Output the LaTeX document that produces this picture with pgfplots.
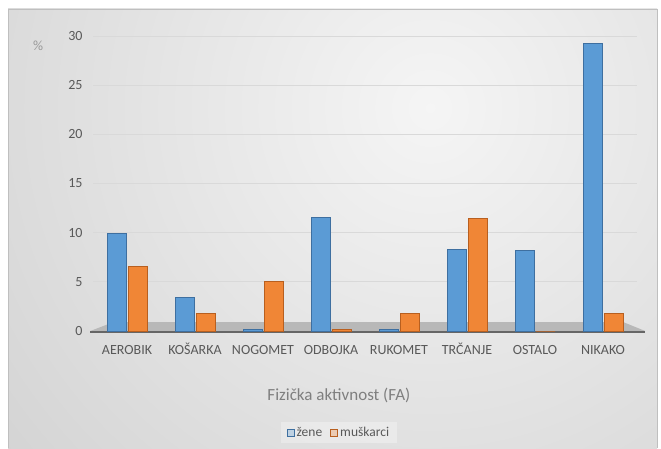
\documentclass[border=0pt]{standalone}
\usepackage{fontspec}
\setmainfont{Carlito}
\usepackage{pgfplots}
\pgfplotsset{compat=1.18}
\usepackage{pgfplotstable}

\definecolor{zblue}{HTML}{5B9BD5}
\definecolor{zblueedge}{HTML}{3E6FA0}
\definecolor{morange}{HTML}{F08636}
\definecolor{morangeedge}{HTML}{B85F1F}
\definecolor{ticktxt}{HTML}{595959}
\definecolor{titletxt}{HTML}{7F7F7F}
\definecolor{gridc}{HTML}{D9D9D9}

\pgfplotstableread{
idx zene muskarci
0   9.9  6.6
1   3.4  1.8
2   0.15 5.0
3   11.5 0.2
4   0.2  1.8
5   8.3  11.4
6   8.2  0
7   29.2 1.8
}\fatable

\begin{document}
\begin{tikzpicture}[x=1pt,y=1pt]
% chart area background
\fill[white] (0,0) rectangle (661,448);
\begin{scope}
  \clip (8,0) rectangle (657,439);
  \shade[inner color=black!4, outer color=black!27] (430,340) circle (980);
\end{scope}
\draw[black!25] (8,0) -- (8,439) -- (657,439) -- (657,0);

\begin{axis}[
    at={(93pt,117pt)}, anchor=south west,
    scale only axis,
    width=544pt, height=295pt,
    ybar, bar width=19pt,
    ymin=0, ymax=30,
    xmin=-0.5, xmax=7.5,
    ytick={0,5,...,30},
    xtick={0,...,7},
    xticklabels={AEROBIK,KOŠARKA,NOGOMET,ODBOJKA,RUKOMET,TRČANJE,OSTALO,NIKAKO},
    axis line style={draw=none},
    tick style={draw=none},
    ymajorgrids, major grid style={gridc, line width=1pt},
    /pgf/number format/assume math mode=true,
    tick label style={font=\fontsize{14}{16}\selectfont, text=ticktxt},
    yticklabel style={xshift=-7pt},
    xticklabel style={anchor=north, text height=10pt, text depth=3pt, yshift=-6pt},
    xlabel={Fizička aktivnost (FA)},
    xlabel style={font=\fontsize{17}{20}\selectfont, text=titletxt,
                  at={(axis description cs:0.452,-0.217)}, anchor=center},
    ylabel={\%},
    ylabel style={font=\fontsize{14}{16}\selectfont, text=black!40, rotate=-90,
                  at={(axis description cs:-0.101,0.968)}, anchor=center},
    legend style={at={(axis description cs:0.452,-0.345)}, anchor=center,
                  legend columns=2, fill=white, fill opacity=0.3, text opacity=1,
                  draw=none, font=\fontsize{13.5}{16}\selectfont, text=ticktxt,
                  inner xsep=6pt, inner ysep=3pt,
                  /tikz/every even column/.append style={column sep=6pt}},
    legend image code/.code={\draw[#1, line width=1pt] (0pt,-3.5pt) rectangle (7pt,3.5pt);},
    clip=false,
]
\fill[black!28] (axis cs:-0.54,0) -- (axis cs:7.62,0) -- (axis cs:7.3,0.9) -- (axis cs:-0.2,0.9) -- cycle;
\draw[black!60, line width=1.5pt] (axis cs:-0.54,-0.1) -- (axis cs:7.62,-0.1);
\addplot[fill=zblue, draw=zblueedge, line width=1pt] table[x=idx, y=zene] {\fatable};
\addplot[fill=morange, draw=morangeedge, line width=1pt] table[x=idx, y=muskarci] {\fatable};
\legend{žene, muškarci}
\end{axis}
\end{tikzpicture}
\end{document}
